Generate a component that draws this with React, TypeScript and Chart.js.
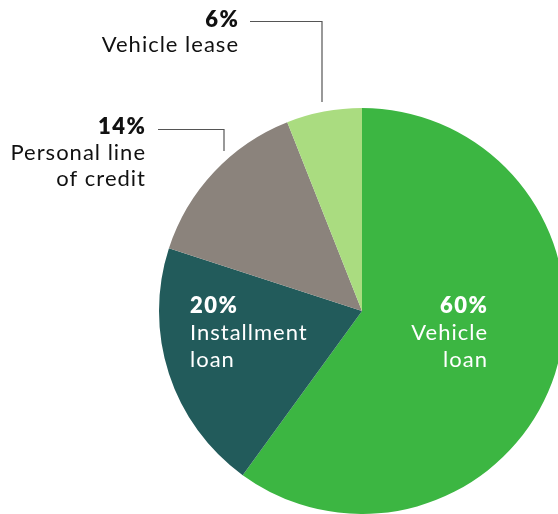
import React, { useEffect, useRef } from "react";
import { Chart, registerables } from "chart.js";
Chart.register(...registerables);

const categories = ["Vehicle loan", "Installment loan", "Personal line of credit", "Vehicle lease"];
const values = [60, 20, 14, 6];
const percentLabels = ["60%", "20%", "14%", "6%"];
const nameLines = [["Vehicle", "loan"], ["Installment", "loan"], ["Personal line", "of credit"], ["Vehicle lease"]];
const colors = ["#3cb642", "#225b5b", "#8b837c", "#aadc80"];

const FONT = "Lato, 'Open Sans', sans-serif";

const labelPlugin = {
  id: "sliceLabels",
  afterDraw(chart: any) {
    const meta = chart.getDatasetMeta(0);
    const arc = meta.data[0];
    if (!arc) return;
    const cx = arc.x;
    const cy = arc.y;
    const ctx = chart.ctx;
    ctx.save();
    const fs = 22;
    const lh = 27;
    const drawBlock = (i: number, x: number, y: number, align: string, color: string, lineH: number) => {
      ctx.textAlign = align;
      ctx.textBaseline = "alphabetic";
      ctx.fillStyle = color;
      const right = align === "right";
      ctx.letterSpacing = "1.5px";
      ctx.font = `800 ${fs}px ${FONT}`;
      ctx.fillText(percentLabels[i], right ? x + 1.5 : x, y);
      ctx.letterSpacing = "1px";
      ctx.font = `400 ${fs}px ${FONT}`;
      nameLines[i].forEach((t, k) => ctx.fillText(t, right ? x + 1 : x, y + lineH * (k + 1)));
    };
    // inside labels
    drawBlock(0, cx + 125, cy + 2, "right", "#ffffff", lh);
    drawBlock(1, cx - 172, cy + 2, "left", "#ffffff", lh);
    // outside labels
    drawBlock(2, cx - 217, cy - 177, "right", "#111111", 26);
    drawBlock(3, cx - 124, cy - 284, "right", "#111111", 25);
    // leader lines
    ctx.letterSpacing = "0px";
    ctx.strokeStyle = "#555555";
    ctx.lineWidth = 1.2;
    ctx.beginPath();
    ctx.moveTo(cx - 112, cy - 289.5);
    ctx.lineTo(cx - 40, cy - 289.5);
    ctx.lineTo(cx - 40, cy - 209);
    ctx.stroke();
    ctx.beginPath();
    ctx.moveTo(cx - 204, cy - 181.5);
    ctx.lineTo(cx - 138, cy - 181.5);
    ctx.lineTo(cx - 138, cy - 160);
    ctx.stroke();
    ctx.restore();
  },
};

export default function App() {
  const ref = useRef<HTMLCanvasElement>(null);
  useEffect(() => {
    if (!ref.current) return;
    const chart = new Chart(ref.current, {
      type: "pie",
      data: {
        labels: categories,
        datasets: [
          {
            data: values,
            backgroundColor: colors,
            borderWidth: 0,
          },
        ],
      },
      options: {
        responsive: false,
        animation: false,
        events: [],
        layout: { padding: { left: 159, top: 108, right: 35, bottom: 0 } },
        plugins: { legend: { display: false }, tooltip: { enabled: false } },
      },
      plugins: [labelPlugin],
    });
    return () => chart.destroy();
  }, []);
  return (
    <div style={{ position: "absolute", left: 0, top: 0, width: 558, height: 514, overflow: "hidden", background: "#fff" }}>
      <canvas ref={ref} width={600} height={514} style={{ width: 600, height: 514, display: "block" }} />
    </div>
  );
}
